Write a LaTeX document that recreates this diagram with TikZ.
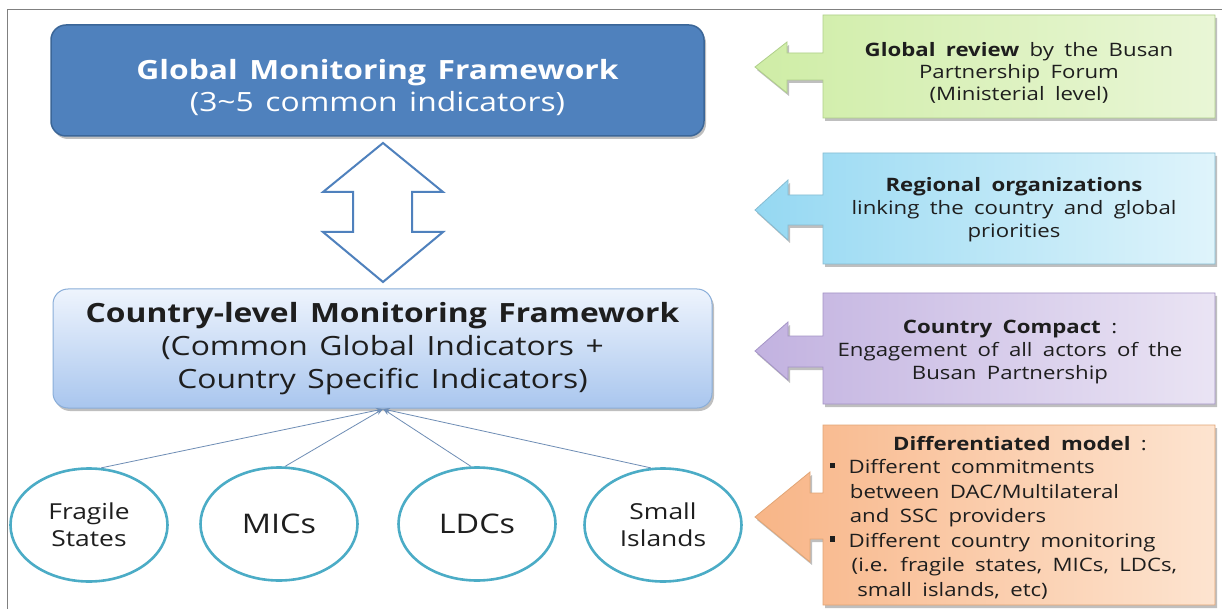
\documentclass[tikz,border=0pt]{standalone}
\usepackage{fontspec}
\setmainfont{Open Sans}[FakeStretch=1.2,WordSpace=1.4]
\newfontfamily\boxfont{Open Sans}[FakeStretch=1.2,WordSpace=1.8]
\usetikzlibrary{shapes.geometric,shadows,arrows.meta}
\definecolor{gfill}{HTML}{4F81BD}
\definecolor{gdraw}{HTML}{3B6698}
\definecolor{ctop}{HTML}{EEF4FD}
\definecolor{cbot}{HTML}{A9C6EE}
\definecolor{cdraw}{HTML}{8AAED9}
\definecolor{teal}{HTML}{4BACC6}
\definecolor{connc}{HTML}{6E8DB5}
\definecolor{grL}{HTML}{CFEDA6}
\definecolor{grR}{HTML}{E9F6D6}
\definecolor{grD}{HTML}{AFCF8A}
\definecolor{blL}{HTML}{95D8F2}
\definecolor{blR}{HTML}{DFF4FB}
\definecolor{blD}{HTML}{86BCD2}
\definecolor{puL}{HTML}{C2B2E0}
\definecolor{puR}{HTML}{EAE4F4}
\definecolor{puD}{HTML}{A494C6}
\definecolor{orL}{HTML}{F8B587}
\definecolor{orR}{HTML}{FDE4D0}
\definecolor{orD}{HTML}{E2A575}
\definecolor{txt}{HTML}{1E1E1E}
\begin{document}
\begin{tikzpicture}[x=1pt,y=-1pt,
  shad/.style={drop shadow={shadow xshift=2pt,shadow yshift=-3pt,opacity=0.25,fill=black}},
  gbox/.style={rounded corners=15pt,draw=gdraw,line width=1.5pt,fill=gfill,
    minimum width=653pt,minimum height=111pt,shad},
  gtext/.style={text=white,align=center,font=\fontsize{26.5}{32}\selectfont},
  cbox/.style={rounded corners=15pt,draw=cdraw,line width=1pt,top color=ctop,bottom color=cbot,text=txt,align=center,
    minimum width=659pt,minimum height=119pt,shad,font=\fontsize{26.5}{33}\selectfont},
  ell/.style={ellipse,draw=teal,line width=2.6pt,fill=white,minimum width=157pt,minimum height=113pt,
    align=center,text=txt,inner sep=0pt},
  small/.style={font=\fontsize{22}{27}\selectfont},
  big/.style={font=\fontsize{27}{30}\selectfont},
  conn/.style={draw=connc,line width=0.8pt,-{Stealth[length=7pt,width=5pt]}},
  dbl/.style={draw=gfill,line width=2pt,fill=white,line join=miter},
  call/.style={line width=0.8pt,shad},
  ctext/.style={align=center,text=txt,font=\boxfont\fontsize{18.5}{23}\selectfont}
]
\useasboundingbox (0,0) rectangle (1222,609);
\fill[white] (0,0) rectangle (1222,609);
\draw[gray,line width=1pt] (7,609) -- (7,10) -- (1222,10);

% top box
\node[gbox] (gmf) at (377.5,80.5) {};
\node[gtext] (gmft) at (377.5,88) {\textbf{Global Monitoring Framework}\\(3\textasciitilde5 common indicators)};

% double arrow
\draw[dbl] (383,143) -- (443,192) -- (412,192) -- (412,232) -- (443,232) -- (383,282)
  -- (323,232) -- (353,232) -- (353,192) -- (323,192) -- cycle;

% country box
\node[cbox] (cmf) at (382.5,348.5) {\textbf{Country-level Monitoring Framework}\\
  (Common Global Indicators +\\Country Specific Indicators)};

% ellipses
\node[ell,small] (fs) at (89,525) {Fragile\\States};
\node[ell,big] (mic) at (279,524) {MICs};
\node[ell,big] (ldc) at (477,524) {LDCs};
\node[ell,small] (si) at (663,525) {Small\\Islands};

\coordinate (hub) at (383,409);
\draw[conn] (fs.78) -- (hub);
\draw[conn] (mic.84) -- (hub);
\draw[conn] (ldc.96) -- (hub);
\draw[conn] (si.102) -- (hub);

% callouts
\path[call,draw=grD,left color=grL,right color=grR]
  (755,67) -- (787,42) -- (787,53) -- (823,53) -- (823,15) -- (1215,15) -- (1215,118)
  -- (823,118) -- (823,80) -- (787,80) -- (787,93) -- cycle;
\node[ctext,font=\boxfont\fontsize{18.5}{21.7}\selectfont] (gr) at (1019,73) {\textbf{Global review} by the Busan\\Partnership Forum\\(Ministerial level)};

\path[call,draw=blD,left color=blL,right color=blR]
  (755,210) -- (788,180) -- (788,195) -- (823,195) -- (823,153) -- (1215,153) -- (1215,264)
  -- (823,264) -- (823,225) -- (788,225) -- (788,240) -- cycle;
\node[ctext] (ro) at (1014,210) {\textbf{Regional organizations}\\linking the country and global\\priorities};

\path[call,draw=puD,left color=puL,right color=puR]
  (755,351) -- (788,322) -- (788,336) -- (823,336) -- (823,293) -- (1215,293) -- (1215,404)
  -- (823,404) -- (823,367) -- (788,367) -- (788,380) -- cycle;
\node[ctext] (cc) at (1010,352) {\textbf{Country Compact} :\\Engagement of all actors of the\\Busan Partnership};

\path[call,draw=orD,left color=orL,right color=orR]
  (755,517) -- (810,472) -- (810,493) -- (823,493) -- (823,425) -- (1215,425) -- (1215,605)
  -- (823,605) -- (823,539) -- (810,539) -- (810,562) -- cycle;
\node[ctext] (dmt) at (1020,444) {\textbf{Differentiated model} :};
\node[ctext,align=left,anchor=north west,font=\boxfont\fontsize{18.5}{24.5}\selectfont] (dmb) at (826,456)
  {\rule[0.3em]{0.28em}{0.28em}\hspace{0.75em}Different commitments\\
   \hspace{1.1em}between DAC/Multilateral\\
   \hspace{1.1em}and SSC providers\\
   \rule[0.3em]{0.28em}{0.28em}\hspace{0.75em}Different country monitoring\\
   \hspace{1.2em}(i.e. fragile states, MICs, LDCs,\\
   \hspace{1.5em}small islands, etc)};
\end{tikzpicture}
\end{document}
